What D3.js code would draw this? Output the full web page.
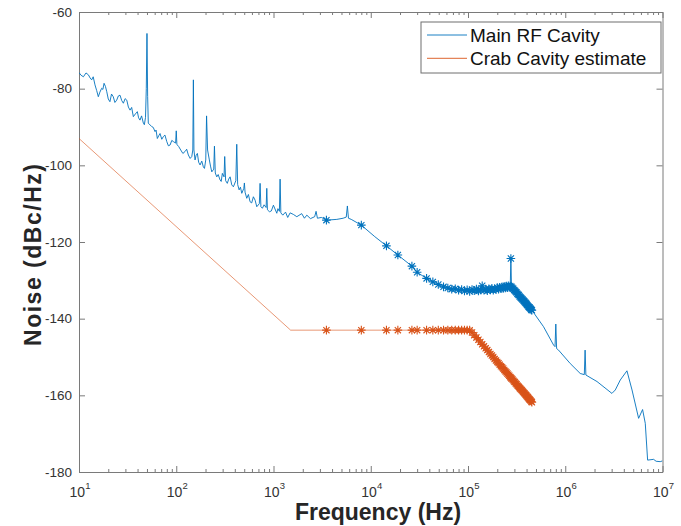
<!DOCTYPE html>
<html>
<head>
<meta charset="utf-8">
<script src="https://cdn.jsdelivr.net/npm/d3@7/dist/d3.min.js"></script>
<style>
  html, body { margin: 0; padding: 0; background: #fff; }
  svg { display: block; font-family: "Liberation Sans", Arial, Helvetica, sans-serif; }
</style>
</head>
<body>
<svg id="chart" width="681" height="526"></svg>
<script>
// ---------------- DATA ----------------
const seriesNames = ["Main RF Cavity", "Crab Cavity estimate"];
const xTickExponents = [1, 2, 3, 4, 5, 6, 7];
const yTicks = [-180, -160, -140, -120, -100, -80, -60];

// Main RF cavity measured trace (Hz, dBc/Hz), points without markers
const mainTrace = [
  [10,-75.8],[10.5,-76.5],[11.1,-76.9],[11.8,-75.9],[12.5,-76.4],[13,-77.2],[13.5,-77.7],[14,-76.9],
  [14.6,-79.0],[15.2,-80.5],[15.8,-82.1],[16.4,-80.9],[17.1,-79.9],[17.6,-80.2],[18.1,-78.6],[18.7,-79.4],
  [19.3,-80.8],[20,-82.7],[20.8,-83.4],[21.6,-81.4],[22.5,-82.1],[23.4,-83.6],[24.4,-83.0],[25.4,-81.9],
  [26.4,-81.7],[27.5,-83.1],[28.6,-83.8],[29.8,-82.6],[31,-83.0],[32.2,-84.8],[33.5,-85.6],[34.8,-84.9],
  [36.2,-87.3],[38,-86.6],[39.8,-86.0],[41,-87.6],[42.4,-88.2],[44,-87.1],[45.9,-89.0],[47,-89.4],
  [48.3,-87.5],[49.2,-80],[50,-65.6],[50.8,-82],
  [51.6,-89.0],[56,-89.9],[58,-90.1],[60.5,-91.2],[62,-90.8],[63.9,-93.0],[66,-92.3],[68.1,-91.7],
  [71,-93.2],[73.7,-92.5],[76.5,-92.1],[79.9,-93.8],[83,-94.9],[86.4,-94.7],[90,-93.5],
  [93.4,-93.8],[98.5,-94.2],[100,-91.0],[101.5,-94.5],[102.6,-94.7],[106,-95.1],[111.2,-96.0],
  [117,-96.9],[123.1,-96.4],[128,-95.8],[133.2,-97.3],[139,-98.2],[144.4,-97.7],[148,-96.0],
  [150,-77.7],[152,-96.0],[156.1,-98.6],[160,-97.4],[164.9,-96.9],[170,-99.2],
  [175.8,-99.9],[183,-98.9],[190,-100.4],[195,-100.8],[201.1,-98.6],[205,-87.1],[210,-96.0],[219,-98.6],
  [225,-100.2],[232,-101.7],
  [243,-101.0],[247,-95.0],[252,-102.0],[261,-103.0],[270,-102.4],[282,-103.8],[290,-104.2],[298,-102.1],
  [310,-103.0],[315,-97.7],[322,-104.0],[335,-104.7],[346,-103.6],[358,-103.0],[372,-105.1],
  [387,-105.6],[410,-104.0],[419,-94.5],
  [428,-105.0],[443,-106.4],[457,-105.7],[472,-107.3],[495,-106.0],[502,-104.6],[510,-107.0],[531,-108.6],
  [552,-107.6],[574,-109.5],[597,-109.8],[621,-108.2],[647,-109.1],[673,-110.8],[715,-110.0],
  [728,-104.7],[742,-110.8],[769,-111.2],[800,-110.3],
  [840,-111.0],[853,-106.0],[866,-111.6],[908,-112.1],[950,-111.9],[998,-110.4],[1081,-112.5],
  [1110,-111.3],[1150,-112.0],
  [1169,-103.6],[1190,-112.4],[1246,-113.0],[1330,-112.2],[1400,-113.6],[1482,-112.4],[1600,-112.8],
  [1737,-113.4],[1950,-112.6],[2080,-113.8],[2201,-113.0],[2400,-113.9],[2650,-113.4],
  [2740,-112.0],[2830,-113.8],[3100,-113.6],[3300,-113.9],
  [4480,-114.1],[5200,-113.8],[5600,-113.5],[5750,-110.6],[5900,-113.8],[6300,-114.1],[11000,-118.6],
  [598000,-142.1],[759000,-146.9],[785000,-147.3],[800000,-141.4],[815000,-147.8],[853000,-148.2],
  [1125000,-151.7],[1425000,-154.3],[1570000,-154.6],[1600000,-148.2],[1630000,-154.7],
  [2120000,-156.4],[3020000,-159.5],[3270000,-158.6],[3680000,-156.0],[4310000,-153.6],
  [4860000,-158.6],[5680000,-166.0],[6240000,-163.7],[6650000,-167.3],[7030000,-176.9],
  [8100000,-176.7],[8600000,-177.2],[9480000,-177.3],[10000000,-177.1]
];

// Frequencies (kHz) of the points drawn with '*' markers (both series)
const markerFreqKHz = [
  3.5, 8, 14.5, 19, 26.5, 30, 37.5, 43.5, 49.5,
  56, 62, 68, 74, 80, 86, 92, 98, 104, 110, 116, 122, 128, 134, 140, 146, 152, 158, 164,
  170, 176, 182, 188, 194, 200, 206, 212, 218, 224, 230, 236, 242, 248, 254, 260, 266, 272,
  276,
  280, 286, 292, 298, 304, 310, 316, 322, 328, 334, 340, 346, 352, 358, 364, 370, 376, 382,
  388, 394, 400, 406, 412, 418, 424, 430, 436, 442, 448, 454
];
const mainMarkerDb = [
  -114.3, -115.6, -121.0, -123.4, -126.3, -127.9, -129.5, -130.4, -131.1,
  -131.7, -132.0, -132.3, -132.2, -132.6, -132.4, -132.8, -132.5, -132.9, -132.4, -132.7, -132.3,
  -132.8, -132.5, -131.4, -132.6, -132.3, -132.7, -132.2,
  -132.5, -132.1, -132.6, -132.2, -132.4, -131.9, -132.3, -131.8, -132.2, -131.7, -132.1, -131.6,
  -132.0, -131.5, -131.9, -131.4, -131.8, -131.5,
  -124.3,
  -131.7, -132.0, -132.2, -132.5, -132.7, -133.0, -133.2, -133.5, -133.7, -133.9, -134.2, -134.4,
  -134.6, -134.8, -135.0, -135.2, -135.4, -135.6, -135.8, -136.0, -136.2, -136.4, -136.6, -136.8,
  -137.0, -137.1, -137.3, -137.5, -137.7, -137.8
];
// Crab cavity estimate: line vertices without markers, then marker values
const crabVertices = [[10, -93.0], [1500, -143.0]];
const crabMarkerDb = [
  -143.0, -143.0, -143.0, -143.0, -143.0, -143.0, -143.0, -143.0, -143.0,
  -143.0, -143.0, -143.0, -143.0, -143.0, -143.0, -143.0, -143.0, -143.0, -143.6, -144.3, -144.9,
  -145.5, -146.1, -146.7, -147.2, -147.7, -148.2, -148.7,
  -149.2, -149.6, -150.0, -150.5, -150.9, -151.3, -151.6, -152.0, -152.4, -152.7, -153.0, -153.4,
  -153.7, -154.0, -154.3, -154.6, -154.9, -155.2,
  -155.4,
  -155.6, -155.8, -156.1, -156.4, -156.6, -156.9, -157.1, -157.4, -157.6, -157.8, -158.1, -158.3,
  -158.5, -158.7, -158.9, -159.1, -159.3, -159.5, -159.7, -159.9, -160.1, -160.3, -160.5, -160.7,
  -160.9, -161.1, -161.2, -161.4, -161.6, -161.8
];

// ---------------- CHART ----------------
const blue = "#0072BD", orange = "#D95319";
const svg = d3.select("#chart");
const L = 79, R = 662.5, T = 12, B = 472;
const x = d3.scaleLog().domain([10, 1e7]).range([L, R]);
const y = d3.scaleLinear().domain([-180, -60]).range([B, T]);

const mainMarkers = markerFreqKHz.map((f, i) => [f * 1000, mainMarkerDb[i]]);
const crabMarkers = markerFreqKHz.map((f, i) => [f * 1000, crabMarkerDb[i]]);
const mainLine = mainTrace.concat(mainMarkers).sort((a, b) => a[0] - b[0]);
const crabLine = crabVertices.concat(crabMarkers).sort((a, b) => a[0] - b[0]);

const line = d3.line().x(d => x(d[0])).y(d => y(d[1]));

// axes
const axisColor = "#7a7a7a";
const majors = xTickExponents.map(e => Math.pow(10, e));
const minors = [];
for (let e = 1; e < 7; e++) for (let k = 2; k <= 9; k++) minors.push(k * Math.pow(10, e));

function styleAxis(g) {
  g.selectAll("path.domain").attr("stroke", axisColor).attr("stroke-width", 1);
  g.selectAll(".tick line").attr("stroke", axisColor).attr("stroke-width", 1);
}

const gx = svg.append("g").attr("transform", `translate(0,${B})`)
  .call(d3.axisBottom(x).tickValues(majors).tickFormat("").tickSize(-6).tickSizeOuter(0));
styleAxis(gx);
const gxm = svg.append("g").attr("transform", `translate(0,${B})`)
  .call(d3.axisBottom(x).tickValues(minors).tickFormat("").tickSize(-3).tickSizeOuter(0));
styleAxis(gxm);
const gxt = svg.append("g").attr("transform", `translate(0,${T})`)
  .call(d3.axisTop(x).tickValues(majors).tickFormat("").tickSize(-6).tickSizeOuter(0));
styleAxis(gxt);
const gxtm = svg.append("g").attr("transform", `translate(0,${T})`)
  .call(d3.axisTop(x).tickValues(minors).tickFormat("").tickSize(-3).tickSizeOuter(0));
styleAxis(gxtm);

const gy = svg.append("g").attr("transform", `translate(${L},0)`)
  .call(d3.axisLeft(y).tickValues(yTicks).tickFormat(d => String(d)).tickSize(-6).tickSizeOuter(0).tickPadding(7));
styleAxis(gy);
gy.selectAll(".tick text").attr("font-size", 13.5).attr("fill", "#333")
  .attr("font-family", "'Liberation Sans', Arial, sans-serif");
const gyr = svg.append("g").attr("transform", `translate(${R},0)`)
  .call(d3.axisRight(y).tickValues(yTicks).tickFormat("").tickSize(-6).tickSizeOuter(0));
styleAxis(gyr);

// x tick labels 10^n
const xl = svg.append("g");
xTickExponents.forEach(e => {
  const t = xl.append("text")
    .attr("x", x(Math.pow(10, e)) + 1)
    .attr("y", 497)
    .attr("text-anchor", "middle")
    .attr("fill", "#333")
    .attr("font-size", 14);
  t.append("tspan").text("10");
  t.append("tspan").attr("font-size", 9.5).attr("dy", -8).text(String(e));
});

// axis titles
svg.append("text")
  .attr("x", 378).attr("y", 520)
  .attr("text-anchor", "middle")
  .attr("font-weight", "bold").attr("font-size", 23).attr("fill", "#262626")
  .text("Frequency (Hz)");
svg.append("text")
  .attr("transform", "translate(41,255) rotate(-90)")
  .attr("text-anchor", "middle")
  .attr("font-weight", "bold").attr("font-size", 23).attr("fill", "#262626")
  .attr("textLength", 182).attr("lengthAdjust", "spacing")
  .text("Noise (dBc/Hz)");

// plot clip
svg.append("clipPath").attr("id", "clip").append("rect")
  .attr("x", L).attr("y", T).attr("width", R - L).attr("height", B - T);
const plot = svg.append("g").attr("clip-path", "url(#clip)");

const star = (r) => {
  const a = r * 0.72;
  return `M${-r},0H${r}M0,${-r}V${r}M${-a},${-a}L${a},${a}M${-a},${a}L${a},${-a}`;
};

// main RF cavity
plot.append("path").datum(mainLine)
  .attr("d", line).attr("fill", "none").attr("stroke", blue).attr("stroke-width", 0.9)
  .attr("stroke-linejoin", "round");
plot.append("g").selectAll("path").data(mainMarkers).join("path")
  .attr("transform", d => `translate(${x(d[0])},${y(d[1])})`)
  .attr("d", star(4.3)).attr("fill", "none").attr("stroke", blue).attr("stroke-width", 1.1);

// crab cavity
plot.append("path").datum(crabLine)
  .attr("d", line).attr("fill", "none").attr("stroke", orange).attr("stroke-width", 0.8)
  .attr("stroke-opacity", 0.75);
plot.append("g").selectAll("path").data(crabMarkers).join("path")
  .attr("transform", d => `translate(${x(d[0])},${y(d[1])})`)
  .attr("d", star(4.3)).attr("fill", "none").attr("stroke", orange).attr("stroke-width", 1.1);

// legend
const lg = svg.append("g");
lg.append("rect").attr("x", 421).attr("y", 22).attr("width", 240).attr("height", 51)
  .attr("fill", "#fff").attr("stroke", "#6f6f6f").attr("stroke-width", 1);
const legendColors = [blue, orange];
seriesNames.forEach((name, i) => {
  const cy = 35 + i * 23.3;
  lg.append("line").attr("x1", 427).attr("x2", 467).attr("y1", cy).attr("y2", cy)
    .attr("stroke", legendColors[i]).attr("stroke-width", 0.9);
  lg.append("text").attr("x", 470).attr("y", cy + 6.8)
    .attr("font-size", 19).attr("fill", "#111").text(name);
});
</script>
</body>
</html>
